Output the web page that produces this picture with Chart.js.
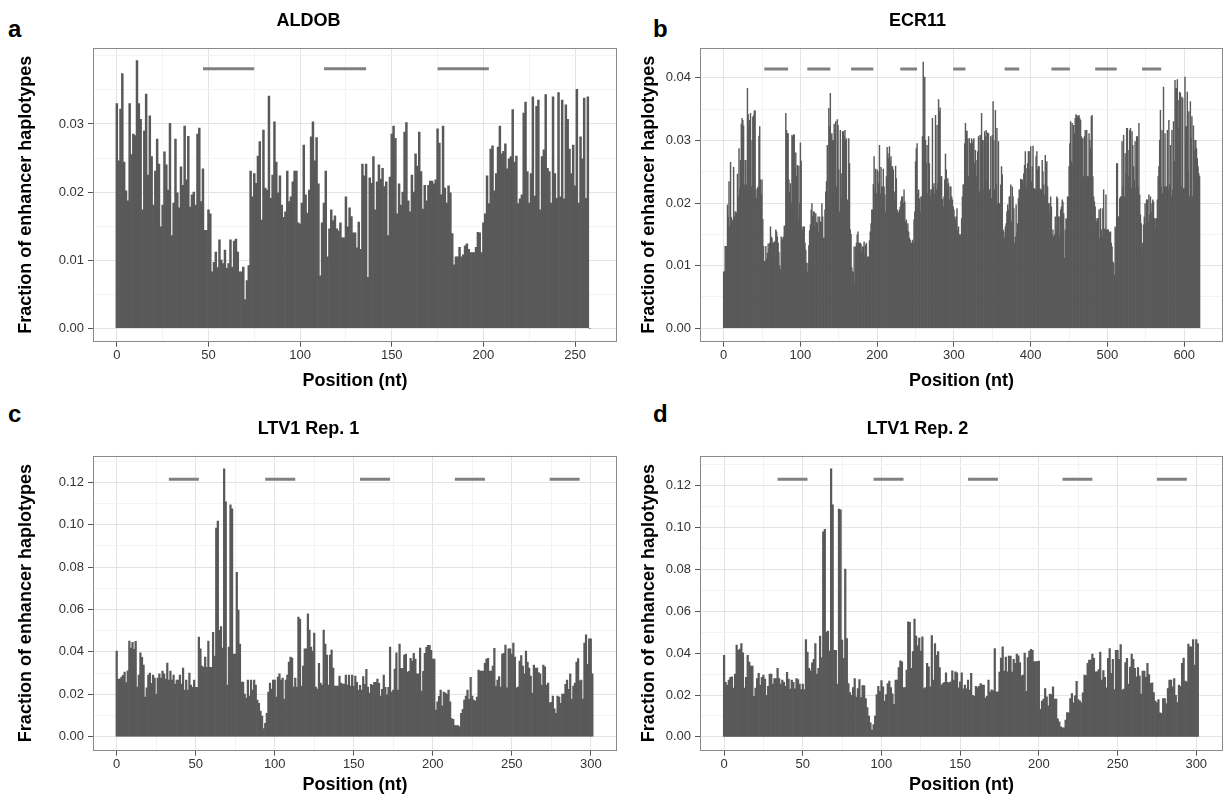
<!DOCTYPE html>
<html>
<head>
<meta charset="utf-8">
<script src="https://cdn.jsdelivr.net/npm/chart.js@4.4.1/dist/chart.umd.min.js"></script>
<style>
  body { margin: 0; background: #fff; width: 1225px; height: 805px; position: relative; overflow: hidden;
         font-family: 'Liberation Sans', Arial, Helvetica, sans-serif; }
  canvas { position: absolute; }
  .tag { position: absolute; font-weight: bold; font-size: 24px; line-height: 24px; color: #000; }
</style>
</head>
<body>
<div class="tag" style="left:8px;top:17px">a</div>
<div class="tag" style="left:653px;top:17px">b</div>
<div class="tag" style="left:8px;top:402px">c</div>
<div class="tag" style="left:653px;top:402px">d</div>
<canvas id="aldob" width="620" height="400" style="left:0;top:0"></canvas>
<canvas id="ecr11" width="613" height="400" style="left:612px;top:0"></canvas>
<canvas id="ltv1a" width="620" height="400" style="left:0;top:405px"></canvas>
<canvas id="ltv1b" width="613" height="400" style="left:612px;top:405px"></canvas>
<script>
// fraction of enhancer haplotypes per position (index = position in nt)
var aldobFrac = [
  0.033, 0.0246, 0.0322, 0.0374, 0.0244, 0.0202, 0.0187, 0.033, 0.0255, 0.0285,
  0.0283, 0.0393, 0.033, 0.0307, 0.0174, 0.029, 0.0344, 0.0225, 0.0312, 0.0252,
  0.0181, 0.0231, 0.0278, 0.0241, 0.0149, 0.0181, 0.0259, 0.024, 0.0203, 0.0301,
  0.0136, 0.0184, 0.0278, 0.0199, 0.0177, 0.0237, 0.021, 0.0297, 0.0218, 0.0282,
  0.0178, 0.0196, 0.02, 0.0181, 0.0285, 0.0294, 0.0186, 0.0234, 0.0144, 0.0144,
  0.0174, 0.0168, 0.0083, 0.0097, 0.0112, 0.0089, 0.013, 0.01, 0.0095, 0.0115,
  0.0088, 0.0095, 0.013, 0.009, 0.0128, 0.0131, 0.0112, 0.0083, 0.0083, 0.009,
  0.0042, 0.007, 0.0092, 0.0231, 0.0193, 0.0227, 0.0213, 0.0253, 0.0274, 0.0159,
  0.0291, 0.0206, 0.0203, 0.0341, 0.0191, 0.0225, 0.0303, 0.0244, 0.0199, 0.0224,
  0.0181, 0.0163, 0.0171, 0.0231, 0.0186, 0.0193, 0.0215, 0.0231, 0.0231, 0.0155,
  0.0153, 0.0184, 0.0269, 0.0196, 0.0169, 0.0203, 0.0281, 0.0303, 0.0246, 0.028,
  0.0212, 0.0077, 0.0155, 0.0184, 0.0231, 0.0105, 0.0146, 0.0174, 0.0158, 0.0165,
  0.0146, 0.0143, 0.0155, 0.0133, 0.0133, 0.0193, 0.0149,
  0.0177, 0.0164, 0.014, 0.014, 0.0118, 0.0156, 0.0116, 0.0241, 0.0224, 0.0241,
  0.0075, 0.0221, 0.0213, 0.0252, 0.0174, 0.0215, 0.024, 0.0219, 0.0235, 0.0208,
  0.0215, 0.0136, 0.0222, 0.0285, 0.0297, 0.0279, 0.0168, 0.0212, 0.0181, 0.02,
  0.0288, 0.0302, 0.0187, 0.0171, 0.0225, 0.02, 0.0256, 0.0238, 0.0288, 0.023,
  0.0175, 0.021, 0.0187, 0.021, 0.0216, 0.0216, 0.0212, 0.0218, 0.0293, 0.0272,
  0.0196, 0.0297, 0.0206, 0.0184, 0.0209, 0.0199, 0.0139, 0.0093, 0.0105, 0.0105,
  0.0119, 0.0105, 0.0108, 0.0121, 0.0124, 0.0116, 0.0111, 0.0111, 0.0111, 0.0119,
  0.0141, 0.014, 0.0111, 0.0155, 0.0168, 0.0224, 0.0183, 0.0263, 0.0268, 0.0202,
  0.0227, 0.0266, 0.0297, 0.0256, 0.026, 0.0271, 0.0234, 0.0249, 0.0252, 0.0321,
  0.0244, 0.0253, 0.0183, 0.019, 0.0196, 0.0316, 0.0332, 0.023, 0.0184, 0.0227,
  0.034, 0.0194, 0.0326, 0.0335, 0.0174, 0.0252, 0.0262, 0.0343, 0.0235, 0.023,
  0.0184, 0.034, 0.0227, 0.0191, 0.0346, 0.0193, 0.0335, 0.019, 0.0328, 0.0307,
  0.0263, 0.0227, 0.0269, 0.0209, 0.0351, 0.0184, 0.0281, 0.0249, 0.0338, 0.0191,
  0.034, 0
];

var ecr11Frac = [
  0.009, 0.009, 0.0131, 0.0131, 0.0131, 0.0197, 0.0177, 0.0234, 0.0162, 0.0265,
  0.0177, 0.0173, 0.017, 0.0257, 0.0178, 0.0186, 0.0186, 0.0184, 0.0246, 0.021,
  0.0287, 0.0223, 0.0268, 0.0326, 0.0335, 0.0332, 0.0323, 0.0229, 0.0268, 0.0268,
  0.0229, 0.0383, 0.0341, 0.0319, 0.0332, 0.0343, 0.0226, 0.03, 0.0337, 0.0339,
  0.0347, 0.0347, 0.0221, 0.0207, 0.0224, 0.0226, 0.0307, 0.0322, 0.0237, 0.0214,
  0.0237, 0.0174, 0.0131, 0.0107, 0.0107, 0.0131, 0.0111, 0.012, 0.0135, 0.0126,
  0.0136, 0.0162, 0.0146, 0.0144, 0.0136, 0.0136, 0.0138, 0.0138, 0.0157, 0.0154,
  0.0146, 0.0136, 0.0121, 0.01, 0.0094, 0.0146, 0.0144, 0.0141, 0.0146, 0.0163,
  0.0163, 0.0343, 0.0316, 0.0311, 0.0311, 0.0237, 0.0218, 0.0231, 0.02, 0.0308,
  0.0306, 0.0309, 0.0309, 0.0255, 0.028, 0.0242, 0.026, 0.0173, 0.0259, 0.0199,
  0.0296, 0.0267, 0.0162, 0.0157, 0.0162, 0.0162, 0.0136, 0.0125, 0.0104, 0.009,
  0.0104, 0.0132, 0.0156, 0.0165, 0.0189, 0.0199, 0.0178, 0.0186, 0.0186, 0.0162,
  0.0183, 0.0169, 0.0167, 0.0178, 0.0153, 0.0178, 0.017, 0.0169, 0.0199, 0.0178,
  0.0144, 0.0144, 0.0189, 0.0218, 0.0234, 0.0292, 0.0205, 0.0351, 0.0322, 0.0375,
  0.0308, 0.0311, 0.03, 0.03, 0.0326, 0.0316, 0.033, 0.0226, 0.0333, 0.0324,
  0.0253, 0.0186, 0.0316, 0.021, 0.0247, 0.0314, 0.0314, 0.0306, 0.0316, 0.03,
  0.0303, 0.0205, 0.0202, 0.0303, 0.0263, 0.0157, 0.015, 0.0097, 0.009, 0.009,
  0.013, 0.0072, 0.013, 0.0136, 0.0149, 0.0154, 0.0136, 0.0136, 0.0136, 0.0134,
  0.0122, 0.013, 0.013, 0.0138, 0.0117, 0.0133, 0.0136, 0.0113, 0.0114, 0.0114,
  0.014, 0.0154, 0.0167, 0.0189, 0.0189, 0.023, 0.0274, 0.0221, 0.0254, 0.0215,
  0.0253, 0.025, 0.0231, 0.0292, 0.0215, 0.0257, 0.0226, 0.0226, 0.0254, 0.0226,
  0.0213, 0.0186, 0.0242, 0.0289, 0.0279, 0.0271, 0.029, 0.0266, 0.0274, 0.0258,
  0.0258, 0.0253, 0.0202, 0.0218, 0.0259, 0.0239, 0.0189, 0.0186, 0.0184, 0.0189,
  0.0194, 0.0203, 0.021, 0.021, 0.0199, 0.0221, 0.0202, 0.017, 0.0173, 0.0157,
  0.0167, 0.0154, 0.0144, 0.0141, 0.0136, 0.0136, 0.0141, 0.0136, 0.0173, 0.0186,
  0.0266, 0.0287, 0.0295, 0.0215, 0.0221, 0.0207, 0.0186, 0.021, 0.021, 0.0306,
  0.0425, 0.0308, 0.0401, 0.03, 0.0263, 0.0292, 0.0215, 0.0306, 0.0263, 0.021,
  0.0221, 0.0221, 0.0335, 0.0226, 0.0231, 0.0215, 0.034, 0.0221, 0.0324, 0.0231,
  0.0365, 0.0346, 0.0352, 0.0242, 0.0242, 0.0206, 0.0194, 0.021, 0.0237, 0.0278,
  0.0253, 0.0221, 0.0239, 0.0231, 0.0205, 0.0226, 0.0226, 0.021, 0.0205, 0.0194,
  0.0189, 0.0178, 0.0173, 0.0178, 0.0191, 0.0157,
  0.0162, 0.0149, 0.0149, 0.0149, 0.0175, 0.021, 0.0229, 0.0229, 0.0295, 0.0327,
  0.0315, 0.0315, 0.0303, 0.0242, 0.0303, 0.0295, 0.0295, 0.0303, 0.0295, 0.03,
  0.0303, 0.0263, 0.0284, 0.0242, 0.0268, 0.0282, 0.0306, 0.0218, 0.0308, 0.0308,
  0.0343, 0.03, 0.0221, 0.03, 0.0314, 0.0306, 0.0316, 0.0237, 0.0312, 0.0311,
  0.0221, 0.0221, 0.0306, 0.0207, 0.0308, 0.0362, 0.03, 0.0221, 0.0348, 0.0231,
  0.0319, 0.0199, 0.0298, 0.0199, 0.0199, 0.0229, 0.0258, 0.0245, 0.0157, 0.0154,
  0.0144, 0.0162, 0.0167, 0.0186, 0.0197, 0.0189, 0.021, 0.021, 0.0229, 0.017,
  0.0226, 0.021, 0.0191, 0.0136, 0.0146, 0.0197, 0.0152, 0.0167, 0.0207, 0.0221,
  0.0221, 0.0238, 0.0237, 0.0237, 0.0229, 0.0247, 0.026, 0.0282, 0.0255, 0.0226,
  0.0263, 0.0282, 0.0282, 0.0253, 0.029, 0.0234, 0.0258, 0.0291, 0.0223, 0.0223,
  0.0221, 0.0274, 0.0282, 0.0253, 0.0258, 0.0258, 0.0223, 0.0221, 0.0221, 0.0268,
  0.025, 0.0229, 0.0213, 0.0276, 0.0263, 0.0266, 0.0226, 0.0199, 0.0199, 0.0183,
  0.021, 0.0194, 0.0148, 0.0157, 0.0146, 0.0149, 0.0178, 0.0162, 0.021, 0.0207,
  0.0178, 0.0178, 0.0146, 0.0189, 0.0194, 0.0205, 0.0202, 0.0183, 0.0112, 0.0157,
  0.0175, 0.0173, 0.021, 0.021, 0.0258, 0.0295, 0.033, 0.0266, 0.0327, 0.026,
  0.0324, 0.0311, 0.0335, 0.0341, 0.034, 0.0338, 0.0338, 0.034, 0.0335, 0.0332,
  0.0306, 0.0303, 0.0303, 0.0242, 0.0306, 0.0316, 0.0242, 0.0316, 0.0242, 0.0242,
  0.0311, 0.03, 0.0287, 0.0338, 0.034, 0.0242, 0.021, 0.0202, 0.0194, 0.0175,
  0.017, 0.0175, 0.0175, 0.0189, 0.0144, 0.0191, 0.0157, 0.0146, 0.0191, 0.0221,
  0.0157, 0.0159, 0.0213, 0.0157, 0.0157, 0.0157, 0.0154, 0.0152, 0.0154, 0.0136,
  0.013, 0.0106, 0.0104, 0.0085, 0.0162, 0.0159, 0.0263, 0.0263, 0.0178, 0.0178,
  0.0207, 0.021, 0.021, 0.0298, 0.0226, 0.0308, 0.021, 0.0279, 0.0247, 0.0319,
  0.0319, 0.0242, 0.0284, 0.0316, 0.0319, 0.0223, 0.0314, 0.0292, 0.0258, 0.0237,
  0.0298, 0.0223, 0.0306, 0.0306, 0.0226, 0.0327, 0.0213, 0.0181, 0.0167, 0.0125,
  0.0136, 0.0165, 0.0178, 0.0199, 0.0167, 0.0205, 0.0205, 0.017, 0.0213, 0.0181,
  0.021, 0.0186, 0.0199, 0.0205, 0.0202, 0.0175, 0.0159, 0.0175, 0.0175, 0.0205,
  0.0242, 0.0258, 0.03, 0.0348, 0.0226, 0.0316, 0.0215, 0.0385, 0.0226, 0.0311,
  0.0226, 0.0226, 0.0316, 0.0221, 0.0332, 0.0229, 0.0292, 0.021, 0.0316, 0.0221,
  0.033, 0.0266, 0.0396, 0.0383, 0.0383, 0.0397, 0.0364, 0.0319, 0.0377, 0.0375,
  0.0226, 0.0369, 0.0367, 0.0223, 0.0223, 0.0401, 0.0322, 0.0322, 0.0377, 0.025,
  0.0346, 0.021, 0.0362, 0.0303, 0.0338, 0.021, 0.0323, 0.0284, 0.03, 0.03,
  0.0287, 0.0271, 0.0258, 0.0247, 0.0242
];

var ltv1Rep1Frac = [
  0.0404, 0.0272, 0.0272, 0.0281, 0.0289, 0.0305, 0.0255, 0.0311, 0.0451, 0.0418,
  0.0445, 0.0412, 0.045, 0.0234, 0.0291, 0.0395, 0.0374, 0.0338, 0.0187, 0.023,
  0.0291, 0.03, 0.0252, 0.0291, 0.0277, 0.0201, 0.0277, 0.0296, 0.0277, 0.031,
  0.0296, 0.0272, 0.0347, 0.0267, 0.031, 0.0267, 0.0291, 0.0248, 0.0267,
  0.0267, 0.0291, 0.0248, 0.0324, 0.022, 0.0267, 0.022, 0.03, 0.0244, 0.0233, 0.0267, 0.0233,
  0.0233, 0.047, 0.0414, 0.0333, 0.0327, 0.0376, 0.0327, 0.0451, 0.0327, 0.0327,
  0.0492, 0.038, 0.0984, 0.1017, 0.0502, 0.0519, 0.0418, 0.1263, 0.1107, 0.0244,
  0.0423, 0.1093, 0.1074, 0.039, 0.039, 0.0775, 0.0597, 0.0437, 0.0258, 0.0258,
  0.0201, 0.0182, 0.0267, 0.0192, 0.0267, 0.022, 0.0267, 0.0244, 0.0173, 0.0157,
  0.0121, 0.0097, 0.0038, 0.0063, 0.011, 0.0211, 0.0253, 0.0225, 0.0267, 0.0267,
  0.0187, 0.0281, 0.0296, 0.0267, 0.0277, 0.0178, 0.0267, 0.0291, 0.0352, 0.0376,
  0.0371, 0.0234, 0.0277, 0.0234, 0.0564, 0.0555, 0.0239, 0.0333, 0.0414, 0.0414,
  0.0579, 0.0503, 0.0423, 0.0404, 0.0489, 0.0234, 0.0225, 0.0346, 0.0253, 0.0244,
  0.0503, 0.0437, 0.0385, 0.0244, 0.0385, 0.0409, 0.0324, 0.0239, 0.0239, 0.0239,
  0.0286, 0.0253, 0.0248, 0.0248, 0.0291, 0.0244, 0.0291,
  0.0239, 0.0291, 0.0239, 0.0286, 0.0256, 0.022, 0.0242, 0.022, 0.0283, 0.0247,
  0.0318, 0.0234, 0.0206, 0.0247, 0.0242, 0.0256, 0.0256, 0.0272, 0.0252, 0.0192,
  0.0223, 0.0291, 0.0233, 0.0197, 0.0233, 0.0423, 0.0211, 0.022, 0.0319, 0.0395,
  0.022, 0.0437, 0.0322, 0.0322, 0.0385, 0.039, 0.0305, 0.0308, 0.037, 0.0357,
  0.0393, 0.0366, 0.0296, 0.0296, 0.0418, 0.0215, 0.0308, 0.0393, 0.0421, 0.0431,
  0.0431, 0.0407, 0.0366, 0.0366, 0.0126, 0.0164, 0.019, 0.022, 0.0145, 0.0211,
  0.0206, 0.02, 0.022, 0.0164, 0.0085, 0.0082, 0.0053, 0.0053, 0.0053, 0.0046,
  0.011, 0.0129, 0.0173, 0.0192, 0.022, 0.0176, 0.028, 0.0192, 0.0173, 0.0168,
  0.0187, 0.0314, 0.031, 0.031, 0.031, 0.0346, 0.0366, 0.037, 0.031, 0.031,
  0.0333, 0.0417, 0.0239, 0.0267, 0.0283, 0.0234, 0.039, 0.0393, 0.0432, 0.023,
  0.0414, 0.0414, 0.039, 0.0442, 0.0376, 0.023, 0.0234, 0.0357, 0.0382, 0.0333,
  0.0296, 0.0404, 0.0352, 0.0324, 0.0286, 0.0206, 0.0338, 0.0324, 0.0324, 0.0302,
  0.0296, 0.0244, 0.0338, 0.0329, 0.0244, 0.0253, 0.016, 0.0162, 0.0192, 0.0131,
  0.011, 0.0192, 0.0187, 0.0157, 0.0201, 0.0201, 0.0247, 0.0267, 0.0223, 0.0296,
  0.0178, 0.0239, 0.0253, 0.0352, 0.0368, 0.0263, 0.0267, 0.0178, 0.0442, 0.048,
  0.0341, 0.0461, 0.0461, 0.0296
];

var ltv1Rep2Frac = [
  0.039, 0.026, 0.0247, 0.0271, 0.0284, 0.0287, 0.0233, 0.03, 0.0438, 0.0414,
  0.0419, 0.0446, 0.0402, 0.0233, 0.0284, 0.039, 0.0357, 0.0338, 0.0338, 0.0194,
  0.0233, 0.0279, 0.0303, 0.0247, 0.0284, 0.0295, 0.0276, 0.0199, 0.0242, 0.03,
  0.03, 0.0252, 0.0279, 0.0279, 0.0327, 0.0279, 0.0252, 0.0271, 0.026, 0.0242,
  0.0308, 0.0276, 0.0228, 0.0271, 0.026, 0.0229, 0.0279, 0.0274, 0.0252, 0.0226,
  0.0252, 0.0226, 0.0465, 0.0405, 0.0327, 0.0316, 0.0354, 0.037, 0.0446, 0.03,
  0.0328, 0.0481, 0.0379, 0.098, 0.0991, 0.05, 0.0505, 0.041, 0.128, 0.1108,
  0.0414, 0.0414, 0.0252, 0.1088, 0.1084, 0.0462, 0.0375, 0.0802, 0.047, 0.0255,
  0.0212, 0.0198, 0.0236, 0.0279, 0.019, 0.0231, 0.0274, 0.0188, 0.0245, 0.0245,
  0.0183, 0.014, 0.0099, 0.0067, 0.0032, 0.0059, 0.0099, 0.0202, 0.0242, 0.0218,
  0.0269, 0.0239, 0.0171, 0.0202, 0.0255, 0.0266, 0.0236, 0.0206, 0.0155, 0.0271,
  0.0271, 0.0331, 0.0363, 0.0359, 0.0236, 0.0236, 0.0319, 0.055, 0.0547, 0.0328,
  0.0408, 0.0563, 0.0481, 0.0435, 0.0472, 0.041, 0.0478, 0.0231, 0.0236, 0.0351,
  0.0335, 0.0239, 0.0484, 0.0271, 0.0446, 0.039, 0.0408, 0.0331, 0.0247, 0.0255,
  0.026, 0.0306, 0.026, 0.0258, 0.0263, 0.0316, 0.0271, 0.0311,
  0.0306, 0.0234, 0.0263, 0.0306, 0.0229, 0.0247, 0.0229, 0.0271, 0.0223, 0.0304,
  0.0199, 0.0194, 0.0242, 0.0236, 0.0242, 0.0255, 0.0247, 0.0247, 0.0185, 0.0194,
  0.0271, 0.0214, 0.0225, 0.022, 0.0422, 0.0214, 0.0215, 0.0309, 0.0376, 0.043,
  0.0314, 0.0381, 0.0311, 0.0386, 0.0386, 0.0309, 0.0371, 0.0351, 0.0395, 0.0387,
  0.0355, 0.0292, 0.0295, 0.04, 0.0218, 0.0379, 0.041, 0.0418, 0.0414, 0.036,
  0.036, 0.036, 0.0362, 0.0132, 0.0171, 0.018, 0.0231, 0.0191, 0.0148, 0.0204,
  0.0202, 0.0239, 0.018, 0.018, 0.0086, 0.0072, 0.0048, 0.0043, 0.0043, 0.008,
  0.0116, 0.0115, 0.0183, 0.0207, 0.0163, 0.0196, 0.0265, 0.0178, 0.0172, 0.0163,
  0.021, 0.0295, 0.0293, 0.0351, 0.0367, 0.0367, 0.0395, 0.0375, 0.0311, 0.0311,
  0.0322, 0.0405, 0.0271, 0.0317, 0.0284, 0.0234, 0.0375, 0.0422, 0.0303, 0.0371,
  0.0226, 0.0414, 0.0414, 0.0371, 0.0441, 0.0223, 0.0228, 0.0355, 0.0375, 0.0252,
  0.0333, 0.0395, 0.0371, 0.0327, 0.0287, 0.0331, 0.029, 0.0204, 0.0314, 0.0314,
  0.0284, 0.0351, 0.0298, 0.0255, 0.0258, 0.0212, 0.0171, 0.0164, 0.0178, 0.0115,
  0.0112, 0.0183, 0.0183, 0.0159, 0.0231, 0.0271, 0.0271, 0.0239, 0.0279, 0.0199,
  0.0164, 0.0247, 0.0242, 0.0351, 0.0376, 0.0266, 0.0263, 0.0443, 0.043, 0.043,
  0.0465, 0.0343, 0.0465, 0.0446
];

// grey bars above the panels: start / end position (nt) and height
var aldobSegStart = [47, 113, 175];
var aldobSegEnd = [75, 136, 203];
var aldobSegY = 0.0381;
var ecr11SegStart = [53, 109, 166, 230, 299, 366, 427, 484, 545];
var ecr11SegEnd = [84, 139, 195, 252, 315, 385, 451, 512, 570];
var ecr11SegY = 0.0414;
var ltv1Rep1SegStart = [33, 94, 154, 214, 274];
var ltv1Rep1SegEnd = [52, 113, 173, 233, 293];
var ltv1Rep1SegY = 0.1214;
var ltv1Rep2SegStart = [34, 95, 155, 215, 275];
var ltv1Rep2SegEnd = [53, 114, 174, 234, 294];
var ltv1Rep2SegY = 0.1231;

var FONT = "'Liberation Sans', Arial, Helvetica, sans-serif";

function onStep(v, step) {
    return Math.abs(v / step - Math.round(v / step)) < 1e-6;
}

var panelBorder = {
    id: 'panelBorder',
    afterDatasetsDraw: function (chart) {
        var a = chart.chartArea, ctx = chart.ctx;
        ctx.save();
        ctx.strokeStyle = '#8a8a8a';
        ctx.lineWidth = 1;
        ctx.strokeRect(Math.round(a.left) + 0.5, Math.round(a.top) + 0.5,
            Math.round(a.right - a.left) - 1, Math.round(a.bottom - a.top) - 1);
        ctx.restore();
    }
};

// major breaks get the darker grid line, a tick mark and a label
function gridOpts(isMajor) {
    return {
        offset: false,
        lineWidth: 1,
        tickLength: 5,
        color: function (c) { return c.tick && isMajor(c.tick.value) ? '#e4e4e4' : '#f3f3f3'; },
        tickColor: function (c) { return c.tick && isMajor(c.tick.value) ? '#555' : 'rgba(0,0,0,0)'; }
    };
}

function makePanel(id, p) {
    var xIsMajor = function (v) { return onStep(v, p.xMajor); };
    var yIsMajor = function (v) { return onStep(v, p.yMajor) && v <= p.yLabelMax + 1e-9; };

    var datasets = [{
        type: 'bar',
        data: p.values.map(function (v, i) { return { x: i, y: v }; }),
        backgroundColor: '#595959',
        borderWidth: 0,
        barPercentage: 1,
        categoryPercentage: 1,
        order: 2
    }];
    p.segStart.forEach(function (s, k) {
        datasets.push({
            type: 'line',
            data: [{ x: s, y: p.segY }, { x: p.segEnd[k], y: p.segY }],
            borderColor: '#808080',
            borderWidth: 3,
            borderCapStyle: 'butt',
            pointRadius: 0,
            order: 1
        });
    });

    return new Chart(document.getElementById(id), {
        type: 'bar',
        data: { datasets: datasets },
        plugins: [panelBorder],
        options: {
            responsive: false,
            animation: false,
            events: [],
            layout: { padding: { left: 0, right: p.padRight, top: 0, bottom: 0 } },
            plugins: {
                legend: { display: false },
                tooltip: { enabled: false },
                title: {
                    display: true,
                    text: p.title,
                    color: '#000',
                    font: { family: FONT, size: 18, weight: 'bold' },
                    padding: p.titlePad
                }
            },
            scales: {
                x: {
                    type: 'linear',
                    min: p.xMin,
                    max: p.xMax,
                    offset: false,
                    grid: gridOpts(xIsMajor),
                    border: { display: false },
                    ticks: {
                        stepSize: p.xMajor / 2,
                        includeBounds: false,
                        autoSkip: false,
                        maxRotation: 0,
                        padding: 1,
                        color: '#333',
                        font: { family: FONT, size: 13 },
                        callback: function (v) { return xIsMajor(v) ? String(Math.round(v)) : ''; }
                    },
                    title: {
                        display: true,
                        text: 'Position (nt)',
                        color: '#000',
                        font: { family: FONT, size: 18, weight: 'bold' },
                        padding: { top: 0, bottom: p.xTitlePad }
                    },
                    afterFit: function (s) { s.height = p.xAxisH; }
                },
                y: {
                    type: 'linear',
                    min: p.yMin,
                    max: p.yMax,
                    grid: gridOpts(yIsMajor),
                    border: { display: false },
                    ticks: {
                        stepSize: p.yMajor / 2,
                        includeBounds: false,
                        autoSkip: false,
                        padding: 4,
                        color: '#333',
                        font: { family: FONT, size: 13 },
                        callback: function (v) { return yIsMajor(v) ? v.toFixed(2) : ''; }
                    },
                    title: {
                        display: true,
                        text: 'Fraction of enhancer haplotypes',
                        color: '#000',
                        font: { family: FONT, size: 18, weight: 'bold' },
                        padding: { top: p.yTitlePad, bottom: 0 }
                    },
                    afterFit: function (s) { s.width = p.yAxisW; }
                }
            }
        }
    });
}

makePanel('aldob', {
    title: 'ALDOB', values: aldobFrac,
    segStart: aldobSegStart, segEnd: aldobSegEnd, segY: aldobSegY,
    xMin: -13, xMax: 272.9, xMajor: 50,
    yMin: -0.00197, yMax: 0.0412, yMajor: 0.01, yLabelMax: 0.03,
    yAxisW: 93, xAxisH: 58.3, padRight: 3,
    titlePad: { top: 10, bottom: 16.1 }, yTitlePad: 15.2, xTitlePad: 7.7
});

makePanel('ecr11', {
    title: 'ECR11', values: ecr11Frac,
    segStart: ecr11SegStart, segEnd: ecr11SegEnd, segY: ecr11SegY,
    xMin: -30.8, xMax: 650.5, xMajor: 100,
    yMin: -0.00214, yMax: 0.04479, yMajor: 0.01, yLabelMax: 0.04,
    yAxisW: 88, xAxisH: 58.3, padRight: 2,
    titlePad: { top: 10, bottom: 16.1 }, yTitlePad: 26.2, xTitlePad: 8.5
});

makePanel('ltv1a', {
    title: 'LTV1 Rep. 1', values: ltv1Rep1Frac,
    segStart: ltv1Rep1SegStart, segEnd: ltv1Rep1SegEnd, segY: ltv1Rep1SegY,
    xMin: -15, xMax: 316.6, xMajor: 50,
    yMin: -0.0066, yMax: 0.1326, yMajor: 0.02, yLabelMax: 0.12,
    yAxisW: 93, xAxisH: 54.3, padRight: 3,
    titlePad: { top: 13.2, bottom: 15.7 }, yTitlePad: 15.2, xTitlePad: 9.2
});

makePanel('ltv1b', {
    title: 'LTV1 Rep. 2', values: ltv1Rep2Frac,
    segStart: ltv1Rep2SegStart, segEnd: ltv1Rep2SegEnd, segY: ltv1Rep2SegY,
    xMin: -15.3, xMax: 317, xMajor: 50,
    yMin: -0.0066, yMax: 0.1344, yMajor: 0.02, yLabelMax: 0.12,
    yAxisW: 88, xAxisH: 54.3, padRight: 2,
    titlePad: { top: 13.2, bottom: 15.7 }, yTitlePad: 26.2, xTitlePad: 9.2
});
</script>
</body>
</html>
